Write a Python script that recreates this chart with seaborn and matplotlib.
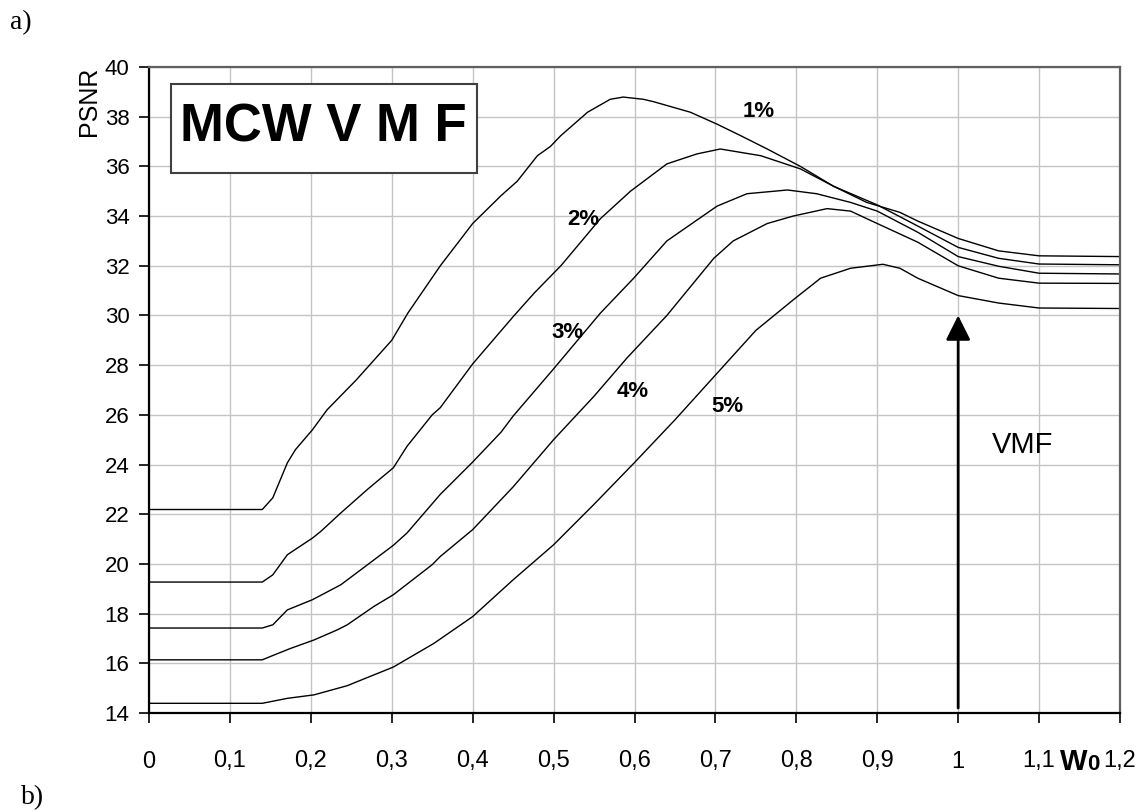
import numpy as np
import pandas as pd
import matplotlib
matplotlib.use("Agg")
import matplotlib.pyplot as plt
import matplotlib.patches as mpatches
import seaborn as sns

# PSNR versus weight w0 for noise levels 1% .. 5%
x_1 = [0, 0.14, 0.153, 0.171, 0.181, 0.202, 0.22, 0.256, 0.30, 0.32, 0.36, 0.40, 0.435, 0.455, 0.48,
       0.496, 0.509, 0.542, 0.57, 0.586, 0.611, 0.624, 0.669, 0.702, 0.731, 0.764, 0.805, 0.846,
       0.887, 0.928, 0.95, 1.0, 1.05, 1.1, 1.2]
y_1 = [22.19, 22.19, 22.66, 24.07, 24.6, 25.4, 26.2, 27.4, 29.0, 30.1, 32.0, 33.7, 34.82, 35.4, 36.43,
       36.8, 37.24, 38.18, 38.7, 38.79, 38.7, 38.6, 38.18, 37.7, 37.24, 36.7, 36.0, 35.2,
       34.55, 34.15, 33.8, 33.1, 32.6, 32.4, 32.37]

x_2 = [0, 0.14, 0.153, 0.171, 0.202, 0.212, 0.237, 0.27, 0.302, 0.319, 0.35, 0.36, 0.40, 0.45, 0.476,
       0.509, 0.558, 0.595, 0.64, 0.677, 0.706, 0.756, 0.805, 0.846, 0.9, 0.95, 1.0, 1.05, 1.1, 1.2]
y_2 = [19.27, 19.27, 19.56, 20.37, 21.04, 21.3, 22.05, 23.0, 23.87, 24.74, 26.0, 26.29, 28.05, 29.95, 30.9,
       32.0, 33.9, 35.0, 36.1, 36.5, 36.7, 36.43, 35.9, 35.2, 34.45, 33.6, 32.74, 32.3, 32.07, 32.04]

x_3 = [0, 0.14, 0.153, 0.171, 0.202, 0.237, 0.262, 0.302, 0.319, 0.36, 0.40, 0.435, 0.45, 0.50, 0.558,
       0.599, 0.64, 0.702, 0.739, 0.789, 0.825, 0.867, 0.9, 0.95, 1.0, 1.05, 1.1, 1.2]
y_3 = [17.42, 17.42, 17.55, 18.15, 18.56, 19.16, 19.77, 20.75, 21.25, 22.8, 24.1, 25.3, 25.95, 27.85, 30.1,
       31.5, 33.0, 34.4, 34.9, 35.05, 34.9, 34.55, 34.2, 33.35, 32.37, 31.98, 31.7, 31.67]

x_4 = [0, 0.14, 0.155, 0.175, 0.204, 0.233, 0.245, 0.278, 0.302, 0.35, 0.36, 0.40, 0.45, 0.50, 0.55,
       0.591, 0.64, 0.698, 0.722, 0.764, 0.796, 0.838, 0.867, 0.9, 0.95, 1.0, 1.05, 1.1, 1.2]
y_4 = [16.14, 16.14, 16.34, 16.6, 16.94, 17.35, 17.55, 18.29, 18.76, 19.97, 20.3, 21.38, 23.1, 25.0, 26.75,
       28.3, 30.0, 32.3, 33.0, 33.7, 34.0, 34.3, 34.2, 33.7, 32.95, 32.0, 31.5, 31.3, 31.29]

x_5 = [0, 0.14, 0.171, 0.204, 0.245, 0.302, 0.352, 0.40, 0.45, 0.50, 0.55, 0.60, 0.65, 0.70, 0.75,
       0.797, 0.83, 0.867, 0.907, 0.928, 0.95, 1.0, 1.05, 1.1, 1.2]
y_5 = [14.39, 14.39, 14.59, 14.73, 15.1, 15.85, 16.8, 17.88, 19.36, 20.77, 22.4, 24.08, 25.8, 27.6, 29.4,
       30.65, 31.5, 31.9, 32.06, 31.9, 31.5, 30.8, 30.5, 30.3, 30.28]

noise_labels = ["1%", "2%", "3%", "4%", "5%"]
label_x = [0.753, 0.537, 0.517, 0.598, 0.715]
label_y = [38.2, 33.88, 29.3, 26.94, 26.34]

x_ticks = [0, 0.1, 0.2, 0.3, 0.4, 0.5, 0.6, 0.7, 0.8, 0.9, 1.0, 1.1, 1.2]
x_ticklabels = ["0", "0,1", "0,2", "0,3", "0,4", "0,5", "0,6", "0,7", "0,8", "0,9", "1", "1,1", "1,2"]
y_ticks = list(range(14, 41, 2))

frames = []
for lab, xs, ys in zip(noise_labels, [x_1, x_2, x_3, x_4, x_5], [y_1, y_2, y_3, y_4, y_5]):
    frames.append(pd.DataFrame({"w0": xs, "psnr": ys, "noise": lab}))
df = pd.concat(frames, ignore_index=True)

sns.set_style("whitegrid")
plt.rcParams["font.family"] = ["Liberation Sans", "DejaVu Sans"]
plt.rcParams["text.color"] = "black"
plt.rcParams["axes.labelcolor"] = "black"
plt.rcParams["xtick.color"] = "black"
plt.rcParams["ytick.color"] = "black"

fig = plt.figure(figsize=(11.48, 8.10), dpi=100)
ax = fig.add_axes([149 / 1148, 1 - 713 / 810, 971 / 1148, 646 / 810])

sns.lineplot(data=df, x="w0", y="psnr", hue="noise", palette=["black"] * 5,
             estimator=None, sort=False, linewidth=1.0, legend=False, ax=ax)

ax.set_xlim(0, 1.2)
ax.set_ylim(14, 40)
ax.set_xticks(x_ticks)
ax.set_xticklabels(x_ticklabels)
ax.set_yticks(y_ticks)
ax.tick_params(axis="x", labelsize=17, length=7, width=1.2, colors="black", direction="out", pad=20, bottom=True)
ax.tick_params(axis="y", labelsize=16, length=7, width=1.2, colors="black", direction="out", pad=7, left=True)
ax.grid(True, color="#c4c4c4", linewidth=1.0)
for side in ["left", "bottom"]:
    ax.spines[side].set_color("black")
    ax.spines[side].set_linewidth(1.6)
for side in ["top", "right"]:
    ax.spines[side].set_color("#606060")
    ax.spines[side].set_linewidth(1.6)

ax.set_xlabel("")
ax.set_ylabel("PSNR", fontsize=18, loc="top", color="black")
ax.yaxis.set_label_coords(-0.049, 1.0)

for lab, lx, ly in zip(noise_labels, label_x, label_y):
    ax.text(lx, ly, lab, fontsize=16, fontweight="bold", ha="center", va="center", color="black")

# title box
ax.add_patch(mpatches.Rectangle((0.0227, 0.836), 0.315, 0.138, transform=ax.transAxes,
                                fill=True, facecolor="white", edgecolor="#404040", linewidth=1.5, zorder=3))
ax.text(0.180, 0.906, "MCW V M F", transform=ax.transAxes, fontsize=38, fontweight="bold",
        ha="center", va="center", color="black", zorder=4)

# VMF arrow
ax.annotate("", xy=(1.0, 30.0), xytext=(1.0, 14.2),
            arrowprops=dict(arrowstyle="-|>,head_length=1.0,head_width=0.5", color="black",
                            lw=2, mutation_scale=15, shrinkA=0, shrinkB=0))
ax.text(1.0796, 24.77, "VMF", fontsize=21, ha="center", va="center", color="black")

# axis name W0 next to last tick
ax.text(1.126, 11.70, "W", fontsize=21, fontweight="bold", ha="left", va="baseline", clip_on=False)
ax.text(1.159, 11.70, "0", fontsize=16, fontweight="bold", ha="left", va="baseline", clip_on=False)

fig.text(10 / 1148, 1 - 29 / 810, "a)", fontsize=20, family="Liberation Serif", ha="left", va="baseline")
fig.text(21 / 1148, 1 - 804 / 810, "b)", fontsize=20, family="Liberation Serif", ha="left", va="baseline")

fig.savefig("out.png", dpi=100)
